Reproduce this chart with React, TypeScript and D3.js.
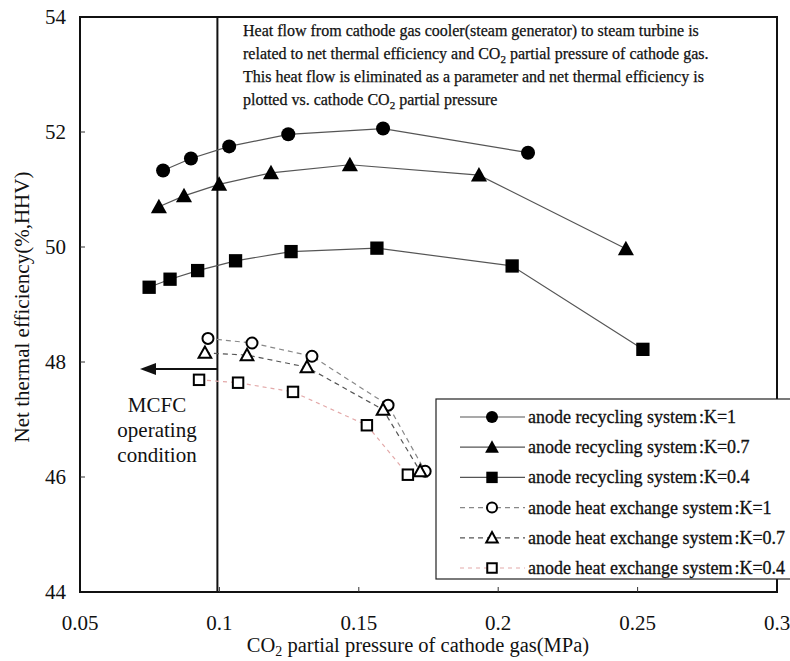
import { useEffect, useRef } from "react";
import * as d3 from "d3";

// anode recycling system
const recK1x = [0.0798, 0.0898, 0.1035, 0.1247, 0.1587, 0.2107];
const recK1y = [51.33, 51.54, 51.75, 51.96, 52.06, 51.64];
const recK07x = [0.0783, 0.0873, 0.0999, 0.1185, 0.1468, 0.1931, 0.2458];
const recK07y = [50.7, 50.89, 51.09, 51.29, 51.43, 51.25, 49.97];
const recK04x = [0.0748, 0.0823, 0.0922, 0.1058, 0.1257, 0.1565, 0.205, 0.2519];
const recK04y = [49.3, 49.44, 49.59, 49.76, 49.92, 49.98, 49.67, 48.22];
// anode heat exchange system
const hexK1x = [0.0959, 0.1117, 0.1332, 0.1605, 0.1738];
const hexK1y = [48.41, 48.33, 48.1, 47.25, 46.1];
const hexK07x = [0.0948, 0.1099, 0.1314, 0.1587, 0.172];
const hexK07y = [48.16, 48.12, 47.91, 47.17, 46.1];
const hexK04x = [0.0927, 0.1067, 0.1264, 0.1529, 0.1676];
const hexK04y = [47.69, 47.64, 47.48, 46.9, 46.04];

const xTicks = [0.05, 0.1, 0.15, 0.2, 0.25, 0.3];
const xTickLabels = ["0.05", "0.1", "0.15", "0.2", "0.25", "0.3"];
const yTicks = [44, 46, 48, 50, 52, 54];

const legendLabels = [
  "anode recycling system:K=1",
  "anode recycling system:K=0.7",
  "anode recycling system:K=0.4",
  "anode heat exchange system:K=1",
  "anode heat exchange system:K=0.7",
  "anode heat exchange system:K=0.4",
];

const noteLines = [
  "Heat flow from cathode gas cooler(steam generator) to steam turbine is",
  "related to net thermal efficiency and CO| partial pressure of cathode gas.",
  "This heat flow is eliminated as a parameter and net thermal efficiency is",
  "plotted vs. cathode CO| partial pressure",
];

const series = [
  { xs: recK1x, ys: recK1y, shape: "circle", filled: true, color: "#555", dash: null },
  { xs: recK07x, ys: recK07y, shape: "triangle", filled: true, color: "#555", dash: null },
  { xs: recK04x, ys: recK04y, shape: "square", filled: true, color: "#555", dash: null },
  { xs: hexK1x, ys: hexK1y, shape: "circle", filled: false, color: "#888", dash: "5,4" },
  { xs: hexK07x, ys: hexK07y, shape: "triangle", filled: false, color: "#555", dash: "5,4" },
  { xs: hexK04x, ys: hexK04y, shape: "square", filled: false, color: "#e3a9a9", dash: "4,4" },
];

const FONT = "'Liberation Serif', 'DejaVu Serif', serif";

const App = () => {
  const svgRef = useRef<SVGSVGElement>(null);

  useEffect(() => {
    const svg = d3.select(svgRef.current);
    svg.selectAll("*").remove();

    const left = 80, right = 777, top = 17, bottom = 592;
    const x = d3.scaleLinear().domain([0.05, 0.3]).range([left, right]);
    const y = d3.scaleLinear().domain([44, 54]).range([bottom, top]);

    // frame
    svg.append("rect")
      .attr("x", left).attr("y", top)
      .attr("width", right - left).attr("height", bottom - top)
      .attr("fill", "none").attr("stroke", "#111").attr("stroke-width", 2);

    // ticks (inward)
    svg.append("g").selectAll("line").data(xTicks.slice(1, -1)).enter().append("line")
      .attr("x1", (d) => x(d)).attr("x2", (d) => x(d))
      .attr("y1", bottom).attr("y2", bottom - 5)
      .attr("stroke", "#333");
    svg.append("g").selectAll("line").data(yTicks.slice(1, -1)).enter().append("line")
      .attr("x1", left).attr("x2", left + 5)
      .attr("y1", (d) => y(d)).attr("y2", (d) => y(d))
      .attr("stroke", "#333");

    svg.append("g").selectAll("text").data(xTicks).enter().append("text")
      .attr("x", (d) => x(d)).attr("y", 630)
      .attr("text-anchor", "middle")
      .attr("font-family", FONT).attr("font-size", 21).attr("fill", "#111")
      .text((d, i) => xTickLabels[i]);
    svg.append("g").selectAll("text").data(yTicks).enter().append("text")
      .attr("x", 66).attr("y", (d) => y(d) + 7)
      .attr("text-anchor", "end")
      .attr("font-family", FONT).attr("font-size", 21).attr("fill", "#111")
      .text((d) => d);

    // axis titles
    const xt = svg.append("text")
      .attr("x", 418).attr("y", 652)
      .attr("text-anchor", "middle")
      .attr("font-family", FONT).attr("font-size", 20.5).attr("fill", "#111");
    xt.append("tspan").text("CO");
    xt.append("tspan").attr("font-size", 14).attr("dy", 4).text("2");
    xt.append("tspan").attr("dy", -4).text(" partial pressure of cathode gas(MPa)");

    svg.append("text")
      .attr("transform", "translate(22,307) rotate(-90)")
      .attr("dy", 7)
      .attr("text-anchor", "middle")
      .attr("font-family", FONT).attr("font-size", 21).attr("fill", "#111")
      .text("Net thermal efficiency(%,HHV)");

    // MCFC operating limit
    svg.append("line")
      .attr("x1", x(0.1) - 2).attr("x2", x(0.1) - 2)
      .attr("y1", top).attr("y2", bottom)
      .attr("stroke", "#111").attr("stroke-width", 2);
    svg.append("line")
      .attr("x1", x(0.1) - 2).attr("x2", 150)
      .attr("y1", y(47.88)).attr("y2", y(47.88))
      .attr("stroke", "#111").attr("stroke-width", 2);
    svg.append("path")
      .attr("d", `M140,${y(47.88)} L156,${y(47.88) - 6} L156,${y(47.88) + 6} Z`)
      .attr("fill", "#111");
    ["MCFC", "operating", "condition"].forEach((t, i) => {
      svg.append("text")
        .attr("x", 157).attr("y", 412 + i * 25)
        .attr("text-anchor", "middle")
        .attr("font-family", FONT).attr("font-size", 21).attr("fill", "#111")
        .text(t);
    });

    // note text
    noteLines.forEach((t, i) => {
      const txt = svg.append("text")
        .attr("x", 243).attr("y", 36 + i * 23)
        .attr("font-family", FONT).attr("font-size", 16)
        .attr("fill", "#111").attr("stroke", "#111").attr("stroke-width", 0.25);
      const parts = t.split("|");
      parts.forEach((p, j) => {
        if (j > 0) {
          txt.append("tspan").attr("font-size", 11).attr("dy", 4).text("2");
          txt.append("tspan").attr("dy", -4).text(p);
        } else {
          txt.append("tspan").text(p);
        }
      });
    });

    const drawMarker = (g, shape, filled, cx, cy, s) => {
      const fill = filled ? "#000" : "#fff";
      const sw = filled ? 0 : 2;
      if (shape === "circle") {
        g.append("circle").attr("cx", cx).attr("cy", cy).attr("r", s)
          .attr("fill", fill).attr("stroke", "#000").attr("stroke-width", sw);
      } else if (shape === "square") {
        const h = s * 0.95;
        g.append("rect").attr("x", cx - h).attr("y", cy - h)
          .attr("width", 2 * h).attr("height", 2 * h)
          .attr("fill", fill).attr("stroke", "#000").attr("stroke-width", sw);
      } else {
        const h = s * 1.15;
        g.append("path")
          .attr("d", `M${cx},${cy - h} L${cx + h},${cy + h * 0.8} L${cx - h},${cy + h * 0.8} Z`)
          .attr("fill", fill).attr("stroke", "#000").attr("stroke-width", sw)
          .attr("stroke-linejoin", "miter");
      }
    };

    const line = d3.line<number>()
      .x((d) => d[0])
      .y((d) => d[1]);

    series.forEach((s) => {
      const pts = s.xs.map((v, i) => [x(v), y(s.ys[i])]);
      svg.append("path")
        .attr("d", line(pts as any))
        .attr("fill", "none")
        .attr("stroke", s.color).attr("stroke-width", 1.2)
        .attr("stroke-dasharray", s.dash);
    });
    series.forEach((s) => {
      const g = svg.append("g");
      s.xs.forEach((v, i) => {
        drawMarker(g, s.shape, s.filled, x(v), y(s.ys[i]), s.filled ? 7 : 5.5);
      });
    });

    // legend
    const lg = svg.append("g");
    lg.append("rect")
      .attr("x", 436).attr("y", 399)
      .attr("width", 360).attr("height", 180)
      .attr("fill", "#fff").attr("stroke", "#222").attr("stroke-width", 1.2);
    legendLabels.forEach((t, i) => {
      const s = series[i];
      const ly = 417 + i * 30.2;
      lg.append("line")
        .attr("x1", 460).attr("x2", 525)
        .attr("y1", ly).attr("y2", ly)
        .attr("stroke", s.color).attr("stroke-width", 1.2)
        .attr("stroke-dasharray", s.dash);
      drawMarker(lg, s.shape, s.filled, 492, ly, s.filled ? 6 : 5);
      const [a, b] = t.split(":");
      const tx = lg.append("text")
        .attr("x", 528).attr("y", ly + 6)
        .attr("font-family", FONT).attr("font-size", 18)
        .attr("fill", "#111").attr("stroke", "#111").attr("stroke-width", 0.3);
      tx.append("tspan").text(a);
      tx.append("tspan").attr("dx", 2).text(":" + b);
    });
  }, []);

  return (
    <svg
      ref={svgRef}
      width={790}
      height={661}
      style={{ position: "absolute", left: 0, top: 0, background: "#fff" }}
    ></svg>
  );
};

export default App;
